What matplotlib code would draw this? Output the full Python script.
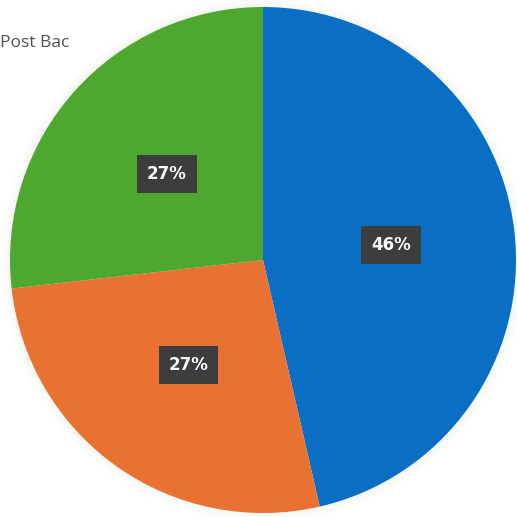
import matplotlib
matplotlib.use("Agg")
import matplotlib.pyplot as plt
from matplotlib.patches import Circle

# Data (shown rounded as 46%, 27%, 27%)
categories = ["Series A", "Series B", "Post Bac"]
values = [46.4, 26.8, 26.8]
colors = ["#0A6FC4", "#E97132", "#4EA72E"]
legend_text = "Post Bac"

W = H = 517
dpi = 100
fig = plt.figure(figsize=(W / dpi, H / dpi), dpi=dpi)
ax = fig.add_axes([0, 0, 1, 1])
ax.set_aspect("equal")

cx, cy, rpx = 263, 260, 253

# soft glow around pie
for i, a in enumerate([0.04, 0.05, 0.06, 0.08]):
    ax.add_patch(Circle((0, 0), 1 + 0.01 * (4 - i), color="#d6e8cc", alpha=a, zorder=0, lw=0))

wedges, texts, autotexts = ax.pie(
    values, colors=colors, startangle=90, counterclock=False,
    radius=1, autopct=lambda p: f"{p:.0f}%", pctdistance=0.51,
    wedgeprops=dict(linewidth=0),
    textprops=dict(color="white", fontsize=12, fontweight="bold", family="DejaVu Sans"),
)
for t in autotexts:
    t.set_bbox(dict(boxstyle="square,pad=0.6", facecolor="#3d3d3d", edgecolor="none"))

ax.set_xlim(-cx / rpx, (W - cx) / rpx)
ax.set_ylim(-(H - cy) / rpx, cy / rpx)
ax.axis("off")

fig.text(0.5 / W, 1 - 43 / H, legend_text, color="#505050", fontsize=12.5, va="center", ha="left",
         family="Open Sans")

fig.savefig("out.png", dpi=dpi, facecolor="white")
